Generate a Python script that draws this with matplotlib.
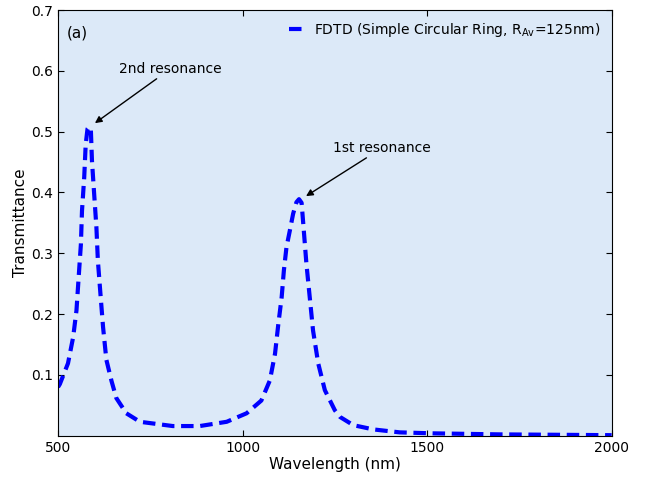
import matplotlib.pyplot as plt

# (dlugosc fali w nm, transmitancja)
wavelength = [500, 505, 527, 541, 550, 556, 562, 565, 571, 575, 580, 584, 589, 592, 598,
              604, 608, 615, 622, 631, 645, 658, 685, 722, 811, 884, 957, 1011, 1051,
              1074, 1088, 1097, 1106, 1112, 1119, 1128, 1137, 1146, 1153, 1160, 1166,
              1173, 1182, 1191, 1205, 1223, 1250, 1264, 1300, 1354, 1426, 1516, 1697, 2000]
transmittance = [0.080, 0.085, 0.119, 0.162, 0.206, 0.261, 0.315, 0.370, 0.425, 0.479,
                 0.505, 0.508, 0.503, 0.452, 0.397, 0.343, 0.288, 0.233, 0.179, 0.125,
                 0.090, 0.062, 0.037, 0.023, 0.016, 0.016, 0.023, 0.037, 0.058, 0.091,
                 0.135, 0.184, 0.228, 0.272, 0.310, 0.337, 0.365, 0.384, 0.389, 0.383,
                 0.337, 0.283, 0.228, 0.173, 0.119, 0.075, 0.042, 0.031, 0.0175, 0.0105,
                 0.0056, 0.004, 0.0023, 0.001]

xticks = [500, 1000, 1500, 2000]
yticks = [0.1, 0.2, 0.3, 0.4, 0.5, 0.6, 0.7]

fig = plt.figure(figsize=(6.46, 4.88), dpi=100)
ax = fig.add_axes([0.0898, 0.107, 0.857, 0.8725])
ax.set_facecolor('#dce9f8')

ax.plot(wavelength, transmittance, '--', color='#0000ff', linewidth=3,
        dashes=(3, 1.6), label='FDTD (Simple Circular Ring, R$_{\\mathrm{Av}}$=125nm)')

ax.set_xlim(500, 2000)
ax.set_ylim(0, 0.7)
ax.set_xticks(xticks)
ax.set_yticks(yticks)
ax.tick_params(direction='in', top=True, right=True, length=4, labelsize=10)
ax.set_xlabel('Wavelength (nm)', fontsize=11, labelpad=2)
ax.set_ylabel('Transmittance', fontsize=11, labelpad=2)

ax.text(0.015, 0.945, '(a)', transform=ax.transAxes, fontsize=11, va='center')

ax.annotate('2nd resonance', xy=(600, 0.514), xytext=(665, 0.603),
            fontsize=10, va='center', ha='left',
            arrowprops=dict(arrowstyle='-|>', color='black', lw=1, shrinkA=0, shrinkB=0))
ax.annotate('1st resonance', xy=(1172, 0.394), xytext=(1245, 0.473),
            fontsize=10, va='center', ha='left',
            arrowprops=dict(arrowstyle='-|>', color='black', lw=1, shrinkA=0, shrinkB=0))

ax.legend(loc='upper right', frameon=False, fontsize=10, handlelength=1.4,
          handletextpad=0.4, borderaxespad=0.4)

plt.savefig('out.png', dpi=100)
